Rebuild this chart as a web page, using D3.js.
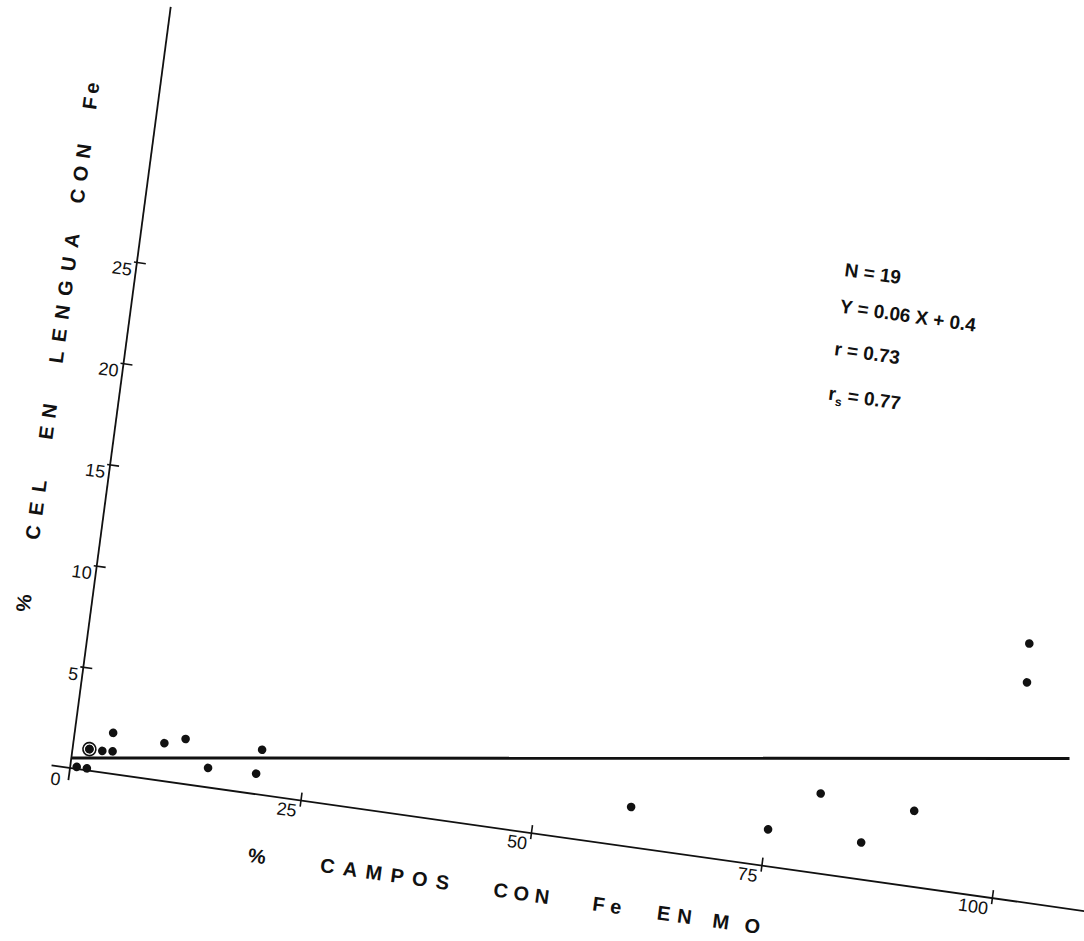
<!DOCTYPE html>
<html>
<head>
<meta charset="utf-8">
<script src="https://cdn.jsdelivr.net/npm/d3@7"></script>
<style>
  body { margin: 0; background: #fff; }
  text { font-family: "Liberation Sans", Arial, sans-serif; fill: #111; }
</style>
</head>
<body>
<svg id="chart"></svg>
<script>
// % campos con Fe en MO (x) vs % cel en lengua con Fe (y), 19 cases
const campos = [0.7, 1.8, 1.8, 1.8, 3.2, 4.3, 4.1, 9.7, 11.9, 14.7, 19.9, 20.2, 60.3, 75.2, 80.3, 85.3, 90.5, 100.4, 100.7];
const cel    = [0.1, 0.1, 1.05, 1.05, 1.05, 1.1, 2.0, 1.85, 2.2, 0.95, 1.0, 2.2, 1.95, 1.8, 3.9, 1.8, 3.7, 12.6, 10.7];

const xTicks = [25, 50, 75, 100];
const yTicks = [5, 10, 15, 20, 25];

// fitted line as drawn on the sheet
const regX = [0, 106.3];
const regY = [0.5, 7.3];

const statLines = ["N = 19", "Y = 0.06 X + 0.4", "r = 0.73", "r|s| = 0.77"];
const xLabelWords = ["%", "CAMPOS", "CON", "Fe", "EN", "MO"];
const yLabelWords = ["%", "CEL", "EN", "LENGUA", "CON", "Fe"];

const W = 1084, H = 941;

const svg = d3.select("#chart")
    .attr("width", W)
    .attr("height", H);

svg.append("rect").attr("width", W).attr("height", H).attr("fill", "#fff");

// the whole sheet sits slightly rotated, so draw everything in a tilted frame
const g = svg.append("g")
    .attr("transform", "matrix(0.9902,0.1397,-0.1312,0.9914,70,768)");

const x = d3.scaleLinear().domain([0, 100]).range([0, 931]);
const y = d3.scaleLinear().domain([0, 25]).range([0, -510.4]);

// axis lines
g.append("line")
    .attr("x1", x(-2)).attr("y1", 0)
    .attr("x2", x(115)).attr("y2", 0)
    .attr("stroke", "#111").attr("stroke-width", 1.8);

g.append("line")
    .attr("x1", 0).attr("y1", y(-0.6))
    .attr("x2", 0).attr("y2", y(37.6))
    .attr("stroke", "#111").attr("stroke-width", 1.8);

// x ticks
const xAxis = g.append("g")
    .call(d3.axisBottom(x).tickValues(xTicks).tickFormat(d3.format("d")));
xAxis.select(".domain").remove();
xAxis.attr("font-family", null).attr("font-size", null);
xAxis.selectAll(".tick line")
    .attr("y1", -8).attr("y2", 6)
    .attr("stroke", "#111").attr("stroke-width", 1.6);
xAxis.selectAll(".tick text")
    .attr("x", -3).attr("y", 17).attr("dy", null)
    .attr("text-anchor", "end")
    .style("font-size", "18px");

// y ticks
const yAxis = g.append("g")
    .call(d3.axisRight(y).tickValues(yTicks).tickFormat(d3.format("d")));
yAxis.select(".domain").remove();
yAxis.attr("font-family", null).attr("font-size", null);
yAxis.selectAll(".tick line")
    .attr("x1", -3).attr("x2", 9)
    .attr("stroke", "#111").attr("stroke-width", 1.6);
yAxis.selectAll(".tick text")
    .attr("x", -4).attr("y", 14).attr("dy", null)
    .attr("text-anchor", "end")
    .style("font-size", "18px");

g.append("text")
    .attr("x", -13).attr("y", 19)
    .attr("text-anchor", "middle")
    .style("font-size", "18px")
    .text("0");

// regression line
g.append("line")
    .attr("x1", x(regX[0])).attr("y1", y(regY[0]))
    .attr("x2", x(regX[1])).attr("y2", y(regY[1]))
    .attr("stroke", "#111").attr("stroke-width", 3);

// points
const pts = campos.map((c, i) => [c, cel[i]]);
g.selectAll(".dot")
    .data(pts)
    .enter()
    .append("circle")
    .attr("class", "dot")
    .attr("cx", d => x(d[0]))
    .attr("cy", d => y(d[1]))
    .attr("r", 4.3)
    .attr("fill", "#111");

// repeated cases get a ring round the dot
const dupes = pts.filter((p, i) => pts.findIndex(q => q[0] === p[0] && q[1] === p[1]) !== i);
g.selectAll(".ring")
    .data(dupes.slice(0, 1))
    .enter()
    .append("circle")
    .attr("class", "ring")
    .attr("cx", d => x(d[0]))
    .attr("cy", d => y(d[1]))
    .attr("r", 6.5)
    .attr("fill", "none")
    .attr("stroke", "#111")
    .attr("stroke-width", 1.6);

// axis titles, spaced lettering
const xWordPos = [[188, 14], [261, 130], [436, 56], [536, 29], [601, 35], [657, 48]];
xLabelWords.forEach((w, i) => {
    const t = g.append("text")
        .attr("x", xWordPos[i][0]).attr("y", 68)
        .style("font-size", "20px").style("font-weight", "bold")
        .text(w);
    if (w.length > 1) t.attr("textLength", xWordPos[i][1]).attr("lengthAdjust", "spacing");
});

const yWordPos = [[148, 14], [221, 60], [322, 36], [399, 131], [560, 60], [655, 27]];
yLabelWords.forEach((w, i) => {
    const t = g.append("text")
        .attr("transform", `translate(-60.5,${-yWordPos[i][0]}) rotate(-90)`)
        .style("font-size", "20px").style("font-weight", "bold")
        .text(w);
    if (w.length > 1) t.attr("textLength", yWordPos[i][1]).attr("lengthAdjust", "spacing");
});

// statistics block
const statY = [29.5, 27.7, 25.6, 23.4];
statLines.forEach((s, i) => {
    const t = g.append("text")
        .attr("x", x(75.5))
        .attr("y", y(statY[i]) + 7)
        .style("font-size", "19px").style("font-weight", "bold");
    const parts = s.split("|");
    if (parts.length === 1) {
        t.text(s);
    } else {
        t.append("tspan").text(parts[0]);
        t.append("tspan").attr("dy", 5).style("font-size", "12px").text(parts[1]);
        t.append("tspan").attr("dy", -5).text(parts[2]);
    }
});
</script>
</body>
</html>
